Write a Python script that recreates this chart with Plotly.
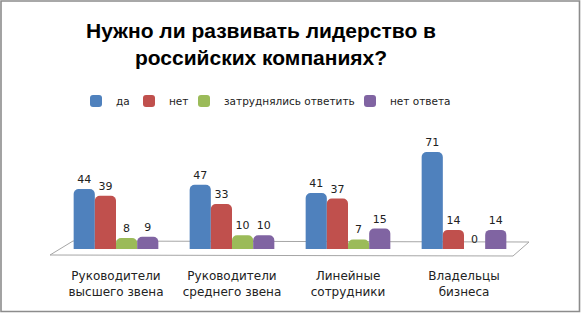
import plotly.graph_objects as go

categories = ["Руководители<br>высшего звена", "Руководители<br>среднего звена",
              "Линейные<br>сотрудники", "Владельцы<br>бизнеса"]
series_names = ["да", "нет", "затруднялись ответить", "нет ответа"]
values_da = [44, 47, 41, 71]
values_net = [39, 33, 37, 14]
values_zatr = [8, 10, 7, 0]
values_net_otveta = [9, 10, 15, 14]
colors = ["#4F81BD", "#C0504D", "#9BBB59", "#8064A2"]
legend_widths = [8, 10, 121, 0]

W, H = 582, 314
ML, MR, MT, MB = 58, 60, 133, 65
PW = W - ML - MR
PH = H - MT - MB


def px(x):
    return (x - ML) / PW


def py(y):
    return (H - MB - y) / PH


fig = go.Figure()
for name, vals, col, lw in zip(series_names,
                               [values_da, values_net, values_zatr, values_net_otveta],
                               colors, legend_widths):
    fig.add_trace(go.Bar(
        x=categories, y=vals, name=name,
        marker=dict(color=col, line=dict(width=0)),
        text=[str(v) for v in vals], textposition="outside",
        textfont=dict(family="DejaVu Sans", size=11, color="#222222"),
        cliponaxis=False, legendwidth=lw,
    ))

# floor plane and chart border
floor = (f"M {px(73)} {py(241)} L {px(529)} {py(242)} "
         f"L {px(513)} {py(256)} L {px(50)} {py(255)} Z")
fig.add_shape(type="path", path=floor, xref="paper", yref="paper",
              line=dict(color="#A6A6A6", width=1), fillcolor="white", layer="below")
fig.add_shape(type="rect", xref="paper", yref="paper",
              x0=px(1), x1=px(579.5), y0=py(1), y1=py(311.5),
              line=dict(color="#8C8C8C", width=1.6), layer="above")

fig.update_layout(
    width=W, height=H,
    margin=dict(l=ML, r=MR, t=MT, b=MB),
    paper_bgcolor="white", plot_bgcolor="rgba(0,0,0,0)",
    title=dict(text="Нужно ли развивать лидерство в<br>российских компаниях?",
               x=261 / W, xanchor="center", y=1 - 38 / H, yanchor="middle",
               font=dict(family="Liberation Sans", size=21, color="black", weight="bold")),
    barmode="group", bargap=0.27, bargroupgap=0,
    barcornerradius=5,
    legend=dict(orientation="h", x=px(76), xanchor="left", y=py(101), yanchor="middle",
                font=dict(family="DejaVu Sans", size=10.5, color="#222222"),
                itemwidth=30, bgcolor="rgba(0,0,0,0)", traceorder="normal"),
    xaxis=dict(showline=False, showgrid=False, zeroline=False, ticks="",
               tickfont=dict(family="DejaVu Sans", size=12, color="#222222"),
               ticklabelstandoff=18),
    yaxis=dict(range=[0, 85], visible=False),
    showlegend=True,
)

fig.write_html("out.html", config={"displayModeBar": False},
               post_script="document.body.style.margin='0';")
